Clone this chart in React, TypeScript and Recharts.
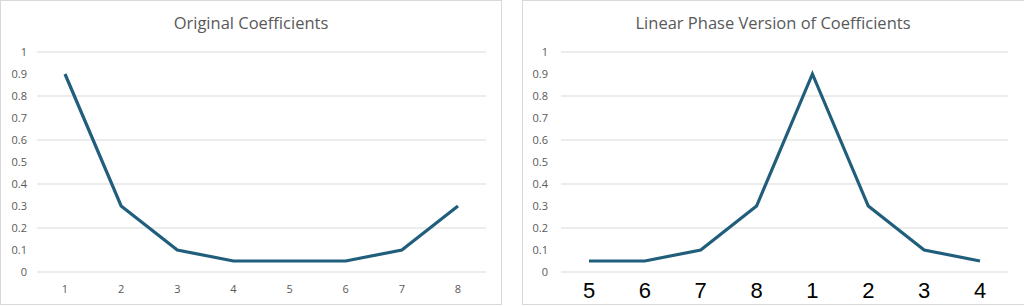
import React from 'react';
import { LineChart, Line, XAxis, YAxis, CartesianGrid } from 'recharts';

const originalCategories = ['1', '2', '3', '4', '5', '6', '7', '8'];
const originalValues = [0.9, 0.3, 0.1, 0.05, 0.05, 0.05, 0.1, 0.3];
const linearCategories = ['5', '6', '7', '8', '1', '2', '3', '4'];
const linearValues = [0.05, 0.05, 0.1, 0.3, 0.9, 0.3, 0.1, 0.05];
const yTicks = [0, 0.1, 0.2, 0.3, 0.4, 0.5, 0.6, 0.7, 0.8, 0.9, 1];

const originalData = originalCategories.map((c, i) => ({ name: c, value: originalValues[i] }));
const linearData = linearCategories.map((c, i) => ({ name: c, value: linearValues[i] }));

const LINE = '#215E7C';
const GRID = '#d9d9d9';
const TEXT = '#595959';
const FONT = "'Open Sans', 'Noto Sans', sans-serif";

export default function App() {
  return (
    <div style={{ position: 'absolute', left: 0, top: 0, width: 1024, height: 306, background: '#fff', overflow: 'hidden' }}>
      {/* left panel */}
      <div style={{ position: 'absolute', left: 0, top: 0, width: 500, height: 303, border: '1px solid #d9d9d9' }} />
      <div style={{ position: 'absolute', left: 0, top: 11, width: 502, textAlign: 'center', fontFamily: FONT, fontSize: 16.5, color: TEXT, lineHeight: '24px' }}>
        Original Coefficients
      </div>
      <div style={{ position: 'absolute', left: 0, top: 0 }}>
        <LineChart width={502} height={306} data={originalData} margin={{ top: 52, right: 16, bottom: 4, left: 0 }}>
          <CartesianGrid vertical={false} stroke={GRID} />
          <XAxis dataKey="name" axisLine={false} tickLine={false} tickSize={0} tickMargin={13} height={30}
            padding={{ left: 28, right: 28 }} interval={0}
            tick={{ fontSize: 11, fill: TEXT, fontFamily: FONT }} />
          <YAxis domain={[0, 1]} ticks={yTicks} axisLine={false} tickLine={false} tickSize={0} tickMargin={10} width={37}
            tick={{ fontSize: 11, fill: TEXT, fontFamily: FONT }} />
          <Line type="linear" dataKey="value" stroke={LINE} strokeWidth={3.2} dot={false} isAnimationActive={false} />
        </LineChart>
      </div>

      {/* right panel */}
      <div style={{ position: 'absolute', left: 522, top: 0, width: 510, height: 303, border: '1px solid #d9d9d9' }} />
      <div style={{ position: 'absolute', left: 522, top: 11, width: 502, textAlign: 'center', fontFamily: FONT, fontSize: 16.5, color: TEXT, lineHeight: '24px' }}>
        Linear Phase Version of Coefficients
      </div>
      <div style={{ position: 'absolute', left: 522, top: 0 }}>
        <LineChart width={502} height={306} data={linearData} margin={{ top: 52, right: 16, bottom: 4, left: 0 }}>
          <CartesianGrid vertical={false} stroke={GRID} />
          <XAxis dataKey="name" axisLine={false} tickLine={false} tickSize={0} tickMargin={10} height={30}
            padding={{ left: 28, right: 28 }} interval={0}
            tick={{ fontSize: 22, fill: '#000', fontFamily: "'Liberation Sans', Arial, sans-serif" }} />
          <YAxis domain={[0, 1]} ticks={yTicks} axisLine={false} tickLine={false} tickSize={0} tickMargin={13} width={39}
            tick={{ fontSize: 11, fill: TEXT, fontFamily: FONT }} />
          <Line type="linear" dataKey="value" stroke={LINE} strokeWidth={3.2} dot={false} isAnimationActive={false} />
        </LineChart>
      </div>
    </div>
  );
}
